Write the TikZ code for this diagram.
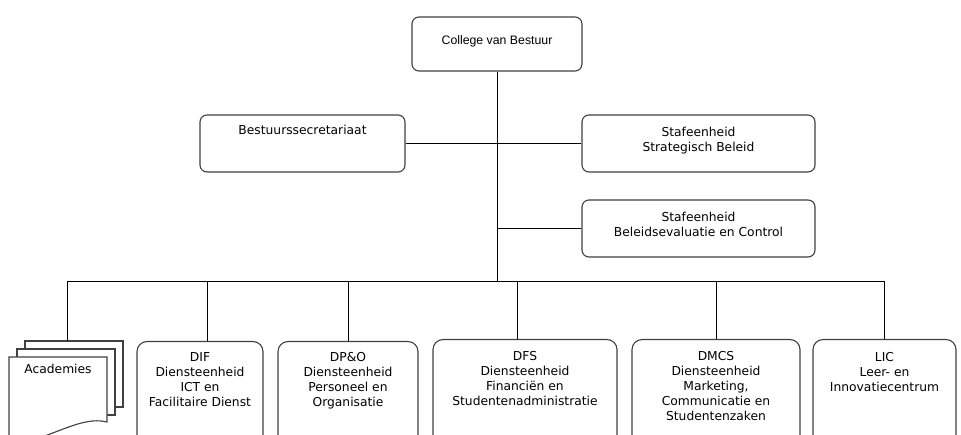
\documentclass[tikz,border=0pt]{standalone}
\usepackage{fontspec}
\newfontfamily\dejavu{DejaVu Sans}
\newfontfamily\arialf{Liberation Sans}
\definecolor{boxline}{HTML}{404040}
\begin{document}
\begin{tikzpicture}[x=1pt,y=-1pt,
  box/.style={draw=boxline, line width=1.1pt, rounded corners=7pt, inner sep=0pt, fill=white},
  bbox/.style={draw=boxline, line width=1.1pt, rounded corners=10pt, inner sep=0pt, anchor=north, minimum height=115pt},
  txt/.style={inner sep=0pt, align=center, font=\dejavu\fontsize{12.3}{15}\selectfont},
  conn/.style={draw=black, line width=1pt},
  page/.style={draw=boxline, line width=1.1pt, fill=white}]
\clip (0,0) rectangle (961,435);
\fill[white] (0,0) rectangle (961,435);
% top boxes
\node[box, minimum width=170pt, minimum height=54pt] (cvb) at (497,44) {};
\node[inner sep=0pt, font=\arialf\fontsize{12.3}{15}\selectfont] (cvbt) at (497,41) {College van Bestuur};
\node[box, minimum width=205pt, minimum height=57pt] (bs) at (302.5,143.5) {};
\node[txt, anchor=north] (bst) at (302.5,125) {Bestuurssecretariaat};
\node[box, minimum width=233pt, minimum height=57pt] (ssb) at (698.5,143.5) {};
\node[txt, anchor=north] (ssbt) at (698.5,126.5) {Stafeenheid\\Strategisch Beleid};
\node[box, minimum width=233pt, minimum height=57pt] (sbc) at (698.5,228.5) {};
\node[txt, anchor=north] (sbct) at (698.5,211.5) {Stafeenheid\\Beleidsevaluatie en Control};
% bottom boxes
\node[bbox, minimum width=126pt] (dif) at (200,341) {};
\node[txt, anchor=north] (dift) at (200,352) {DIF\\Diensteenheid\\ICT en\\Facilitaire Dienst};
\node[bbox, minimum width=140pt] (dpo) at (348,341) {};
\node[txt, anchor=north] (dpot) at (348,352) {DP\&O\\Diensteenheid\\Personeel en\\Organisatie};
\node[bbox, minimum width=184pt] (dfs) at (525,339) {};
\node[txt, anchor=north] (dfst) at (525,351) {DFS\\Diensteenheid\\Financi\"en en\\Studentenadministratie};
\node[bbox, minimum width=168pt] (dmcs) at (716,339) {};
\node[txt, anchor=north] (dmcst) at (716,351) {DMCS\\Diensteenheid\\Marketing,\\Communicatie en\\Studentenzaken};
\node[bbox, minimum width=143pt] (lic) at (884.5,339) {};
\node[txt, anchor=north] (lict) at (884.5,352) {LIC\\Leer- en\\Innovatiecentrum};
% academies (stacked documents)
\draw[page] (115,407) -- (123,407) -- (123,341) -- (25,341) -- (25,349);
\draw[page] (107,415) -- (115,415) -- (115,349) -- (17,349) -- (17,357);
\draw[page] (9,450) -- (9,357) -- (107,357) -- (107,422) .. controls (80,415) and (50,440) .. (9,445);
\node[txt, anchor=north] (acad) at (58,364) {Academies};
\coordinate (acadtop) at (67,341);
% connectors
\coordinate (busL) at (67,282);
\coordinate (busR) at (885,282);
\draw[conn] (busL) -- (busR);
\draw[conn] (cvb.south) -- (cvb.south |- busL);
\draw[conn] (bs.east) -- (ssb.west);
\draw[conn] (sbc.west) -- (sbc.west -| cvb.south);
\draw[conn] (busL) -- (acadtop);
\draw[conn] ([xshift=7pt]dif.north) -- ([xshift=7pt]dif.north |- busL);
\draw[conn] (dpo.north) -- (dpo.north |- busL);
\draw[conn] ([xshift=-8pt]dfs.north) -- ([xshift=-8pt]dfs.north |- busL);
\draw[conn] (dmcs.north) -- (dmcs.north |- busL);
\draw[conn] (lic.north) -- (lic.north |- busL);
\end{tikzpicture}
\end{document}
